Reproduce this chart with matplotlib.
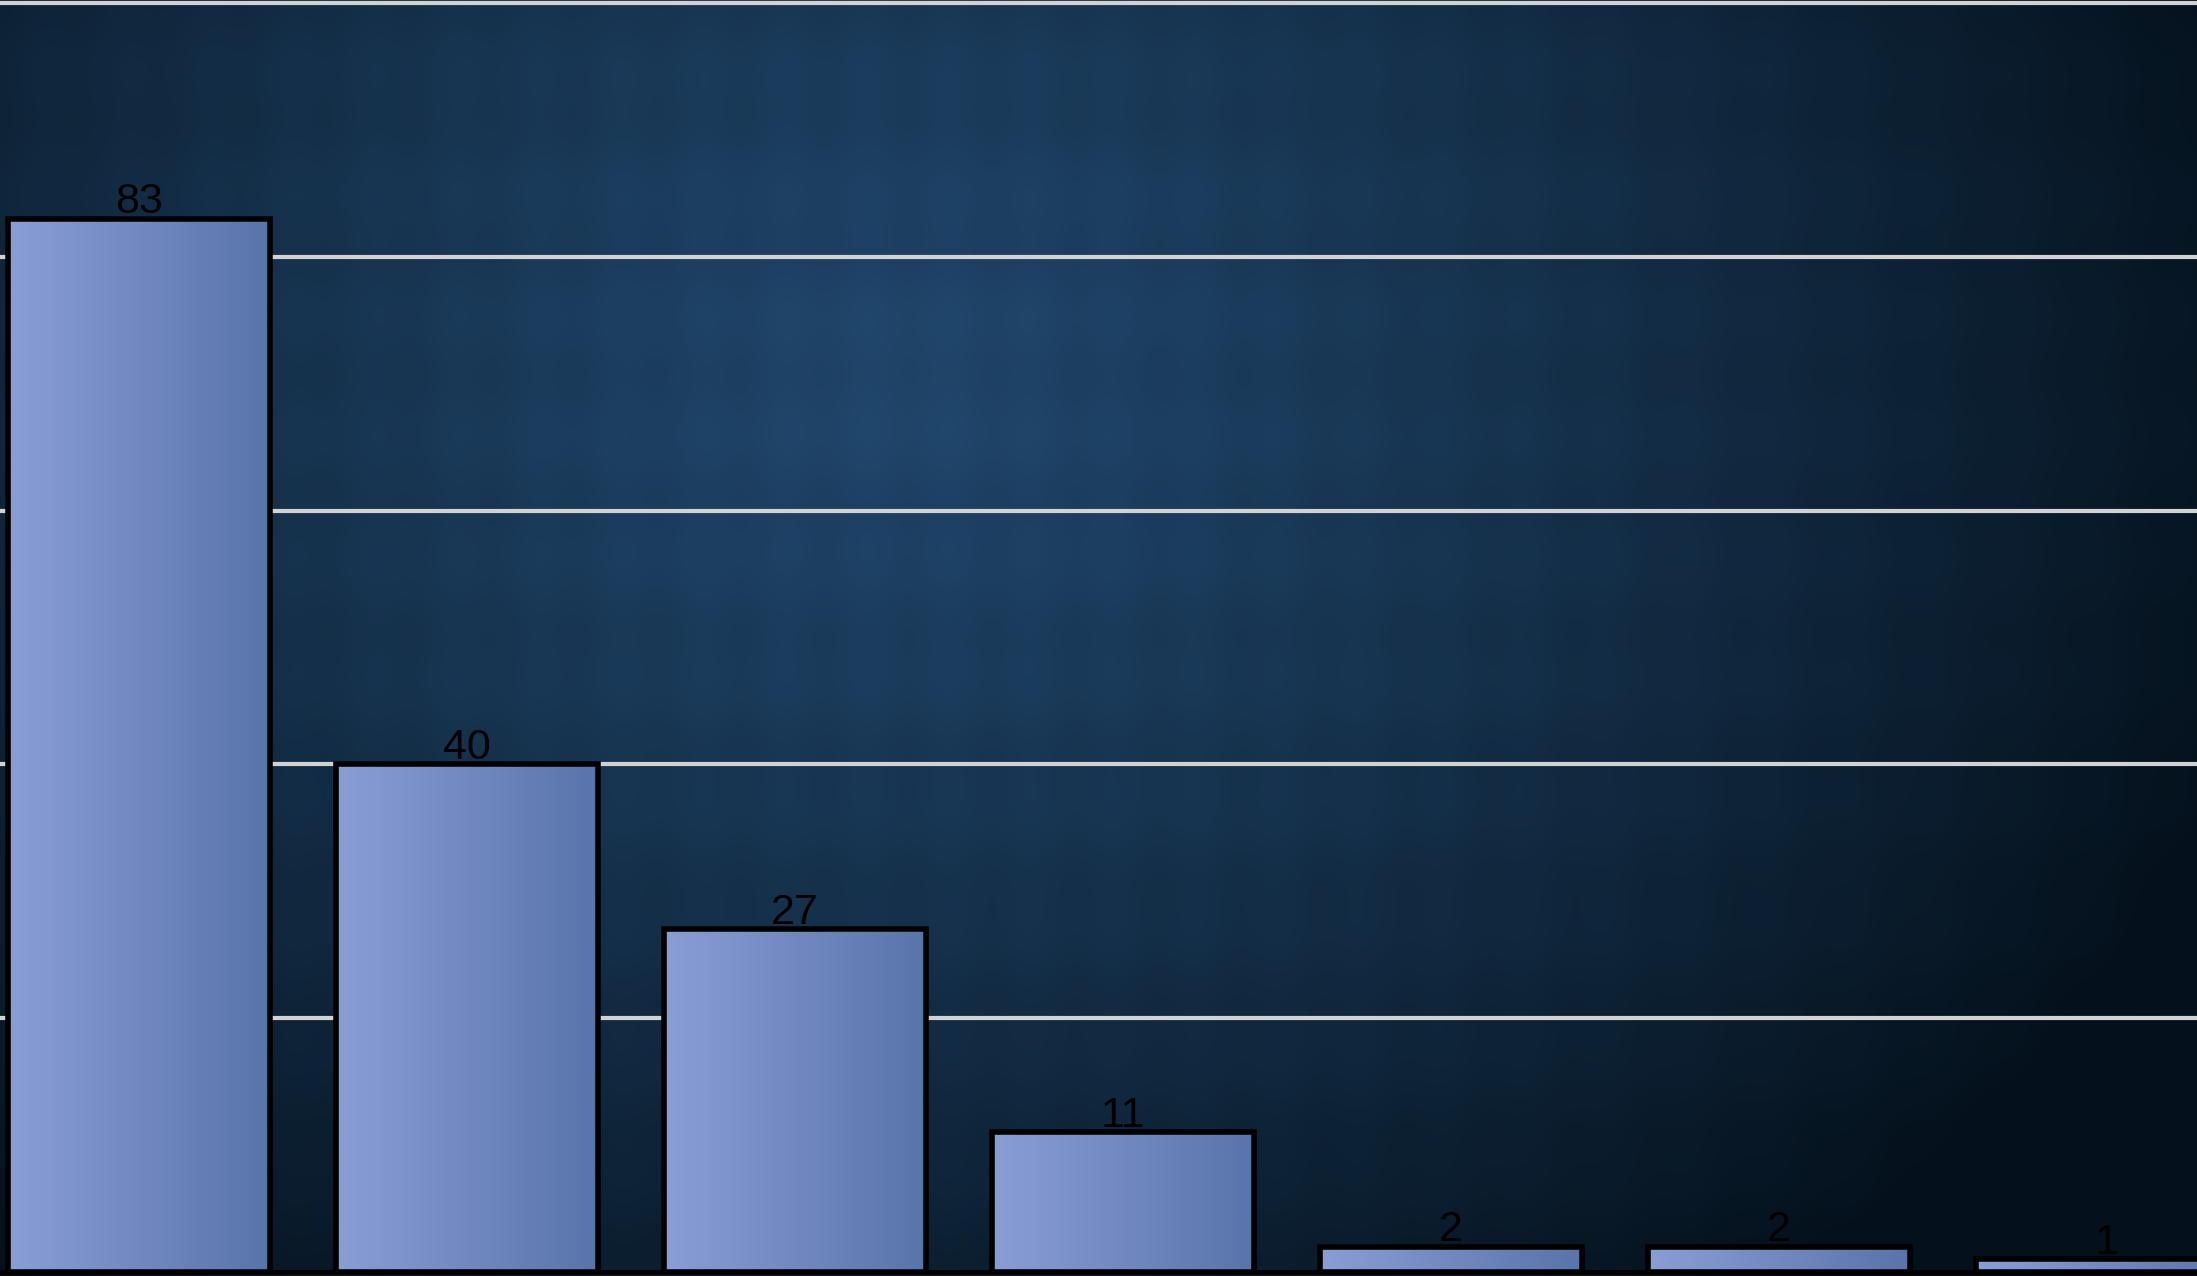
import numpy as np
import matplotlib
matplotlib.use("Agg")
import matplotlib.pyplot as plt
from matplotlib.colors import LinearSegmentedColormap

# bar values, left to right
categories = ["A", "B", "C", "D", "E", "F", "G"]
values = [83, 40, 27, 11, 2, 2, 1]

W, H = 2197, 1276
fig = plt.figure(figsize=(W / 100, H / 100), dpi=100)

# background: dark blue radial glow with a faint damask-like lattice
bg_ax = fig.add_axes([0, 0, 1, 1])
bg_ax.set_axis_off()
yy, xx = np.mgrid[0:H, 0:W]
d = np.sqrt(((xx - 900) / 1400.0) ** 2 + ((yy - 380) / 1150.0) ** 2)
d = np.clip(d, 0, 1)
centre = np.array([0x21, 0x48, 0x6e]) / 255.0
edge = np.array([0x05, 0x12, 0x1e]) / 255.0
t = d ** 1.2
img = centre[None, None, :] * (1 - t[..., None]) + edge[None, None, :] * t[..., None]
pat = np.cos(2 * np.pi * (xx / 165.0 + yy / 250.0)) * np.cos(2 * np.pi * (xx / 165.0 - yy / 250.0))
img = img * (1 - 0.035 * (pat[..., None] + 1))
bg_ax.imshow(np.clip(img, 0, 1), extent=[0, 1, 0, 1], aspect="auto", origin="upper")

ax = fig.add_axes([0, 4 / H, 1, 1272 / H])
ax.patch.set_alpha(0)
x = np.arange(len(values))

ax.set_yticks([20, 40, 60, 80, 100])
ax.yaxis.grid(True, color="#d2d2d2", linewidth=3.0, zorder=0)
ax.set_axisbelow(True)
ax.tick_params(left=False, bottom=False, labelleft=False, labelbottom=False)
for s in ["top", "right", "left"]:
    ax.spines[s].set_visible(False)
ax.spines["bottom"].set_color("black")
ax.spines["bottom"].set_linewidth(3.5)

bars = ax.bar(x, values, width=0.8, facecolor="none", edgecolor="black",
              linewidth=4.0, zorder=4)

grad = LinearSegmentedColormap.from_list("bar", ["#8a9ed6", "#5874a9"])
g = np.linspace(0, 1, 256)[None, :]
for b in bars:
    x0, y0 = b.get_x(), b.get_y()
    ax.imshow(g, cmap=grad, extent=[x0, x0 + b.get_width(), y0, y0 + b.get_height()],
              aspect="auto", zorder=3, interpolation="bilinear")

for b, v in zip(bars, values):
    ax.annotate(str(v), (b.get_x() + b.get_width() / 2, v), xytext=(0, 4),
                textcoords="offset points", ha="center", va="baseline",
                fontsize=31, family="Liberation Sans", color="#000000", zorder=5)

ax.set_xlim(-139 / 328, (W - 139) / 328)
ax.set_ylim(0, 1272 / 12.69)

fig.savefig("out.png", dpi=100)
